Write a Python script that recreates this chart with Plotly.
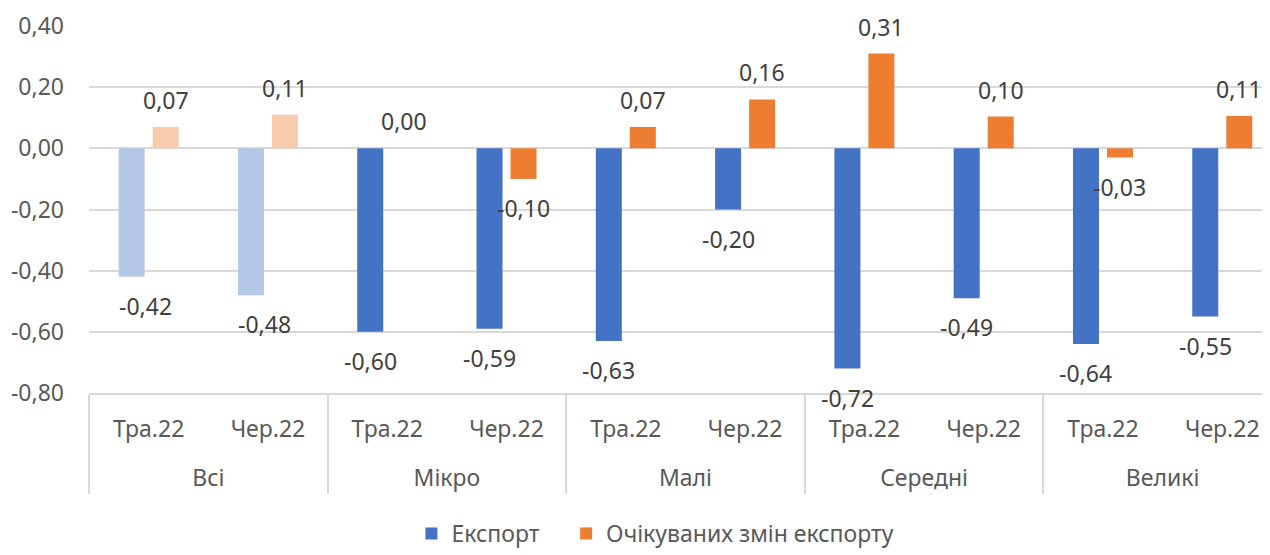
import plotly.graph_objects as go

# categories
groups = ["Всі", "Мікро", "Малі", "Середні", "Великі"]
months = ["Тра.22", "Чер.22"]

# series values
export_vals = [-0.42, -0.48, -0.60, -0.59, -0.63, -0.20, -0.72, -0.49, -0.64, -0.55]
expect_vals = [0.07, 0.11, 0.00, -0.10, 0.07, 0.16, 0.31, 0.104, -0.03, 0.106]

series_names = ["Експорт", "Очікуваних змін експорту"]
y_ticks = [-0.8, -0.6, -0.4, -0.2, 0.0, 0.2, 0.4]

BLUE, BLUE_LIGHT = "#4472C4", "#B4C7E7"
ORANGE, ORANGE_LIGHT = "#ED7D31", "#F8CBAD"
FONT = "Noto Sans"
FS = 23

x_outer = [g for g in groups for _ in months]
# blank second line pushes the group row further down, as in the original
x_inner = [m + "<br>&nbsp;" for _ in groups for m in months]
n = len(x_inner)


def fmt(v):
    return f"{v:.2f}".replace(".", ",")


fig = go.Figure()
# first group ("Всі") is drawn in lighter shades, rest in full colour
k = len(months)
for vals, dark, light, name, grp, leg in ((export_vals, BLUE, BLUE_LIGHT, series_names[0], "a", "legend"),
                                          (expect_vals, ORANGE, ORANGE_LIGHT, series_names[1], "b", "legend2")):
    fig.add_trace(go.Bar(x=[x_outer[:k], x_inner[:k]], y=vals[:k], name=name,
                         offsetgroup=grp, marker=dict(color=light, line_width=0),
                         showlegend=False))
    fig.add_trace(go.Bar(x=[x_outer[k:], x_inner[k:]], y=vals[k:], name=name,
                         offsetgroup=grp, marker=dict(color=dark, line_width=0), legend=leg))

bargap = 0.43
half = (1 - bargap) / 4  # centre offset of each bar within a category

# data labels, placed off the bar end like the Excel "outside end" labels
for i in range(n):
    for vals, off in ((export_vals, -half), (expect_vals, half)):
        v = vals[i]
        shift_x = 14 if (i < k and v < 0) else 0
        fig.add_annotation(x=i + off, y=v, xref="x", yref="y", text=fmt(v),
                           showarrow=False, yshift=27 if v >= 0 else -29, xshift=shift_x,
                           font=dict(family=FONT, size=FS, color="#404040"))

legend_style = dict(orientation="h", xanchor="left", y=-0.383, yanchor="middle",
                    font=dict(size=FS, color="#595959"), itemwidth=30)

# page body has an 8px margin, so the figure is offset by 8px in the window
fig.update_layout(
    width=1262, height=547,
    margin=dict(l=81, r=0, t=18, b=152),
    paper_bgcolor="white", plot_bgcolor="white",
    barmode="group", bargap=bargap, bargroupgap=0.235,
    font=dict(family=FONT, size=FS, color="#595959"),
    legend=dict(x=0.273, **legend_style),
    legend2=dict(x=0.404, **legend_style),
    separators=", ",
)
fig.update_yaxes(range=[-0.8, 0.4], tickvals=y_ticks, ticktext=[fmt(t) for t in y_ticks],
                 showgrid=True, gridcolor="#d9d9d9", gridwidth=1.5,
                 zeroline=True, zerolinecolor="#d9d9d9", zerolinewidth=1.5,
                 showline=False, ticks="", ticklabelstandoff=24, automargin=False)
fig.update_xaxes(type="multicategory", range=[-0.5, n - 0.6], automargin=False,
                 showline=True, linecolor="#d9d9d9", linewidth=1.5,
                 showdividers=True, dividercolor="#d9d9d9", dividerwidth=1.5,
                 tickfont=dict(size=FS, color="#595959"), ticks="", ticklabelstandoff=15)

fig.write_html("out.html")
